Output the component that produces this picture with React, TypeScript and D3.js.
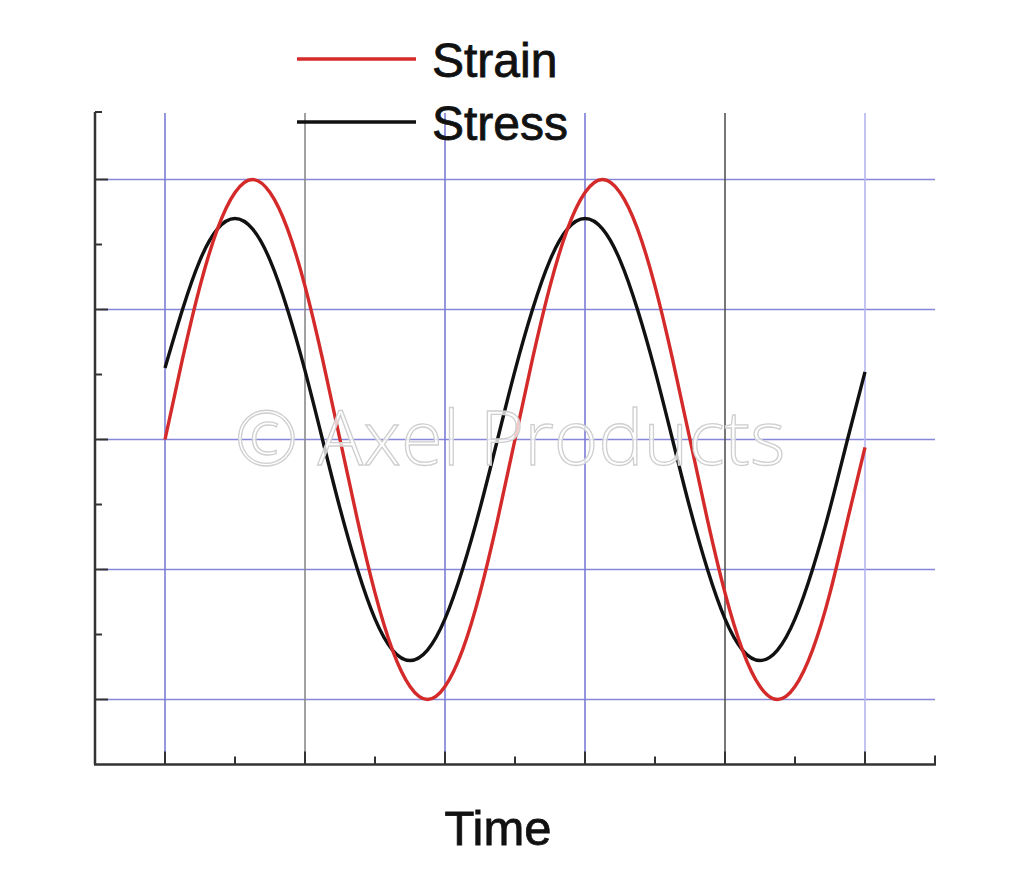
import React from "react";
import * as d3 from "d3";

// Time values (arbitrary units) at which curves were read
const timePoints = [
  0, 0.25, 0.5, 0.75, 1, 1.25, 1.5, 1.75, 2, 2.25, 2.5, 2.75, 3, 3.25, 3.5, 3.75, 4, 4.25, 4.5, 4.75,
  5, 5.25, 5.5, 5.75, 6, 6.25, 6.5, 6.75, 7, 7.25, 7.5, 7.75, 8, 8.25, 8.5, 8.75, 9, 9.25, 9.5, 9.75, 10,
];
const strainValues = [
  0, 0.62, 1.18, 1.62, 1.9, 2.0, 1.9, 1.62, 1.18, 0.62, 0, -0.62, -1.18, -1.62, -1.9, -2.0, -1.9, -1.62, -1.18, -0.62,
  0, 0.62, 1.18, 1.62, 1.9, 2.0, 1.9, 1.62, 1.18, 0.62, 0, -0.62, -1.18, -1.62, -1.9, -2.0, -1.9, -1.62, -1.18, -0.62, -0.06,
];
const stressValues = [
  0.55, 1.0, 1.38, 1.62, 1.7, 1.62, 1.38, 1.0, 0.53, 0, -0.53, -1.0, -1.38, -1.62, -1.7, -1.62, -1.38, -1.0, -0.53, 0,
  0.53, 1.0, 1.38, 1.62, 1.7, 1.62, 1.38, 1.0, 0.53, 0, -0.53, -1.0, -1.38, -1.62, -1.7, -1.62, -1.38, -1.0, -0.53, 0, 0.52,
];

const xMajorTicks = [0, 2, 4, 6, 8, 10];
const xMajorColors = ["#7b7bd6", "#8a8a8a", "#7b7bd6", "#7b7bd6", "#555555", "#b4b4f2"];
const xMinorTicks = [1, 3, 5, 7, 9];
const yMajorTicks = [2, 1, 0, -1, -2];
const yMinorTicks = [1.5, 0.5, -0.5, -1.5];

const seriesNames = ["Strain", "Stress"];
const seriesColors = ["#d42a2a", "#111111"];

export default function App() {
  const width = 1024;
  const height = 875;
  const x = d3.scaleLinear().domain([-1, 11]).range([95, 935]);
  const y = d3.scaleLinear().domain([-2.5, 2.5]).range([764.5, 114.5]);

  const lineGen = (vals: number[]) =>
    d3
      .line<number>()
      .x((_, i) => x(timePoints[i]))
      .y((d) => y(d))
      .curve(d3.curveNatural)(vals) || "";

  const axisColor = "#333";
  const yTop = 112;
  const gridTop = 113;
  const gridRight = 935;

  return (
    <svg
      width={width}
      height={height}
      style={{ position: "absolute", left: 0, top: 0, background: "#fff" }}
      fontFamily="'Liberation Sans', Arial, sans-serif"
    >
      {/* horizontal grid */}
      {yMajorTicks.map((t) => (
        <line key={"hg" + t} x1={100} x2={gridRight} y1={y(t)} y2={y(t)} stroke="#7b7bd6" strokeWidth={1.6} opacity={0.9} />
      ))}
      {/* vertical grid */}
      {xMajorTicks.map((t, i) => (
        <line key={"vg" + t} x1={x(t)} x2={x(t)} y1={gridTop} y2={y(-2.5)} stroke={xMajorColors[i]} strokeWidth={1.6} />
      ))}

      {/* curves */}
      <path d={lineGen(stressValues)} fill="none" stroke={seriesColors[1]} strokeWidth={3.4} strokeLinejoin="round" />
      <path d={lineGen(strainValues)} fill="none" stroke={seriesColors[0]} strokeWidth={3.4} strokeLinejoin="round" />

      {/* watermark */}
      <text
        x={510}
        y={465}
        textAnchor="middle"
        fontFamily="'Open Sans', 'Noto Sans', sans-serif"
        fontSize={76}
        fontWeight={300}
        fill="#ffffff"
        fillOpacity={0.75}
        stroke="#cfcfcf"
        strokeWidth={1.3}
      >
        © Axel Products
      </text>

      {/* axes */}
      <line x1={95} x2={95} y1={yTop} y2={y(-2.5)} stroke={axisColor} strokeWidth={2.5} />
      <line x1={95} x2={102} y1={yTop} y2={yTop} stroke={axisColor} strokeWidth={2} />
      {yMajorTicks.map((t) => (
        <line key={"yt" + t} x1={95} x2={108} y1={y(t)} y2={y(t)} stroke={axisColor} strokeWidth={2} />
      ))}
      {yMinorTicks.map((t) => (
        <line key={"ym" + t} x1={95} x2={102} y1={y(t)} y2={y(t)} stroke={axisColor} strokeWidth={2} />
      ))}
      <line x1={94} x2={936} y1={y(-2.5)} y2={y(-2.5)} stroke={axisColor} strokeWidth={2.5} />
      {xMajorTicks.map((t) => (
        <line key={"xt" + t} x1={x(t)} x2={x(t)} y1={y(-2.5)} y2={y(-2.5) - 13} stroke={axisColor} strokeWidth={2} />
      ))}
      {xMinorTicks.map((t) => (
        <line key={"xm" + t} x1={x(t)} x2={x(t)} y1={y(-2.5)} y2={y(-2.5) - 8} stroke={axisColor} strokeWidth={2} />
      ))}
      <line x1={935} x2={935} y1={y(-2.5)} y2={y(-2.5) - 9} stroke={axisColor} strokeWidth={2} />

      {/* legend */}
      {seriesNames.map((name, i) => (
        <g key={name}>
          <line x1={297} x2={416} y1={59 + i * 63} y2={59 + i * 63} stroke={seriesColors[i]} strokeWidth={3.4} />
          <text x={432} y={77 + i * 63} fontSize={48} fill="#111" stroke="#111" strokeWidth={0.8}>
            {name}
          </text>
        </g>
      ))}

      {/* x label */}
      <text x={498} y={845} textAnchor="middle" fontSize={49} fill="#111" stroke="#111" strokeWidth={0.8}>
        Time
      </text>
    </svg>
  );
}
